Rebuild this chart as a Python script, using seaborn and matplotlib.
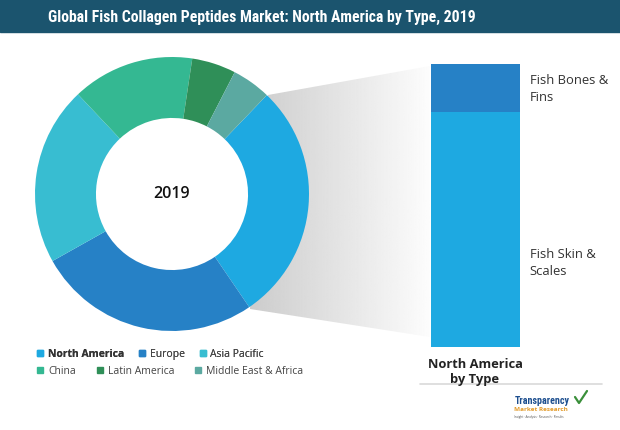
import numpy as np
import pandas as pd
import matplotlib
matplotlib.use("Agg")
import matplotlib.pyplot as plt
import seaborn as sns
from matplotlib.patches import Polygon, Rectangle

sns.set_theme(style="white")
plt.rcParams['font.family'] = ['Open Sans', 'DejaVu Sans']

# ---- data ----
regions = ["North America", "Europe", "Asia Pacific", "China", "Latin America", "Middle East & Africa"]
region_share = [28.3, 26.4, 21.1, 14.4, 5.2, 4.6]
region_colors = ["#1ea9e1", "#2681c6", "#38bdd1", "#34b892", "#2f8f58", "#5ba9a1"]
types = ["Fish Skin & Scales", "Fish Bones & Fins"]
type_labels = ["Fish Skin &\nScales", "Fish Bones &\nFins"]
type_share = [83, 17]
type_colors = ["#1ea9e1", "#2681c6"]
year = "2019"
title = "Global Fish Collagen Peptides Market: North America by Type, 2019"

W, H = 620, 431
fig = plt.figure(figsize=(W / 100, H / 100), dpi=100)
fig.patch.set_facecolor("white")

# overlay axes in pixel coordinates
ov = fig.add_axes([0, 0, 1, 1], zorder=0)
ov.set_xlim(0, W)
ov.set_ylim(H, 0)
ov.axis("off")

# title banner
ov.add_patch(Rectangle((0, 0), W, 33, color="#1b546e", zorder=1))
ov.text(262, 17, title, color="white", fontsize=11.3, fontweight="bold",
        ha="center", va="center", family=["Liberation Sans Narrow", "Roboto Condensed", "Roboto"],
        fontstretch="condensed", zorder=2)

# gradient connector
poly = Polygon([(268, 96), (430, 67), (430, 338), (250, 310), (255, 195)],
               closed=True, facecolor="none", edgecolor="none")
ov.add_patch(poly)
grad = np.linspace(0.80, 0.99, 256).reshape(1, -1)
im = ov.imshow(grad, cmap="gray", vmin=0, vmax=1, extent=(250, 430, 340, 60),
               aspect="auto", zorder=0.5)
im.set_clip_path(poly)

# separator line and bar caption
ov.plot([420, 602], [385, 385], color="#d9d9d9", lw=1.2, zorder=1)
ov.text(475, 372, "North America\nby Type", ha="center", va="center", fontsize=9.3,
        fontweight="bold", color="#222222", linespacing=1.15, zorder=2)

# logo text
ov.text(542, 401, "Transparency", ha="center", va="center", fontsize=7.2, fontweight="bold",
        color="#1d4f8f", family=["Roboto Condensed", "Roboto"], zorder=2)
ov.text(541, 410, "Market Research", ha="center", va="center", fontsize=4.6,
        color="#e39b2a", fontweight="bold", zorder=2)
ov.text(539, 417, "Insight · Analysis · Research · Results", ha="center", va="center", fontsize=2.2,
        color="#555555", zorder=2)
ov.plot([575, 579, 587], [398, 404, 392], color="#3a8f3a", lw=1.6, zorder=2)

# ---- donut ----
cx, cy, R = 172, 195, 137
dax = fig.add_axes([(cx - R) / W, (H - cy - R) / H, 2 * R / W, 2 * R / H], zorder=2)
wedges, _ = dax.pie(region_share, colors=region_colors, startangle=46.2, counterclock=False,
                    radius=1.0, wedgeprops=dict(width=0.445, edgecolor="none", linewidth=0))
dax.set_xlim(-1, 1)
dax.set_ylim(-1, 1)
dax.set_aspect("equal")
dax.axis("off")
dax.text(0, 0.01, year, ha="center", va="center", fontsize=11.5, fontweight="semibold", color="#111111")

# ---- bar ----
bx0, bx1, by0, by1 = 431, 520, 65, 348
bax = fig.add_axes([bx0 / W, (H - by1) / H, (bx1 - bx0) / W, (by1 - by0) / H], zorder=2)
df = pd.DataFrame({"region": ["North America"], "skin": [type_share[0]], "bones": [type_share[1]]})
df["total"] = df["skin"] + df["bones"]
sns.barplot(data=df, x="region", y="total", color=type_colors[1], width=1, saturation=1,
            linewidth=0, edgecolor="none", ax=bax)
sns.barplot(data=df, x="region", y="skin", color=type_colors[0], width=1, saturation=1,
            linewidth=0, edgecolor="none", ax=bax)
bax.set_xlim(-0.5, 0.5)
bax.set_ylim(0, 100)
bax.axis("off")
bax.text(0.61, type_share[0] + type_share[1] / 2, type_labels[1], ha="left", va="center",
         fontsize=9.4, color="#333333", linespacing=1.35, clip_on=False)
bax.text(0.61, 30, type_labels[0], ha="left", va="center",
         fontsize=9.4, color="#333333", linespacing=1.35, clip_on=False)

# ---- legends ----
def make_legend(idx, y, spacing, bold_first=False):
    handles = [Rectangle((0, 0), 1, 1, color=region_colors[i]) for i in idx]
    labels = [regions[i] for i in idx]
    leg = fig.legend(handles, labels, loc="center left", bbox_to_anchor=(32 / W, 1 - y / H),
                     ncol=3, frameon=False, fontsize=7.5, handlelength=0.6, handleheight=0.6,
                     handletextpad=0.45, columnspacing=spacing, borderpad=0, labelcolor="#444444")
    if bold_first:
        leg.get_texts()[0].set_fontweight("bold")
        leg.get_texts()[0].set_color("#333333")
    return leg

leg1 = make_legend([0, 1, 2], 355, 1.4, bold_first=True)
fig.add_artist(leg1)
leg2 = make_legend([3, 4, 5], 372, 2.0)

fig.savefig("out.png", dpi=100)
